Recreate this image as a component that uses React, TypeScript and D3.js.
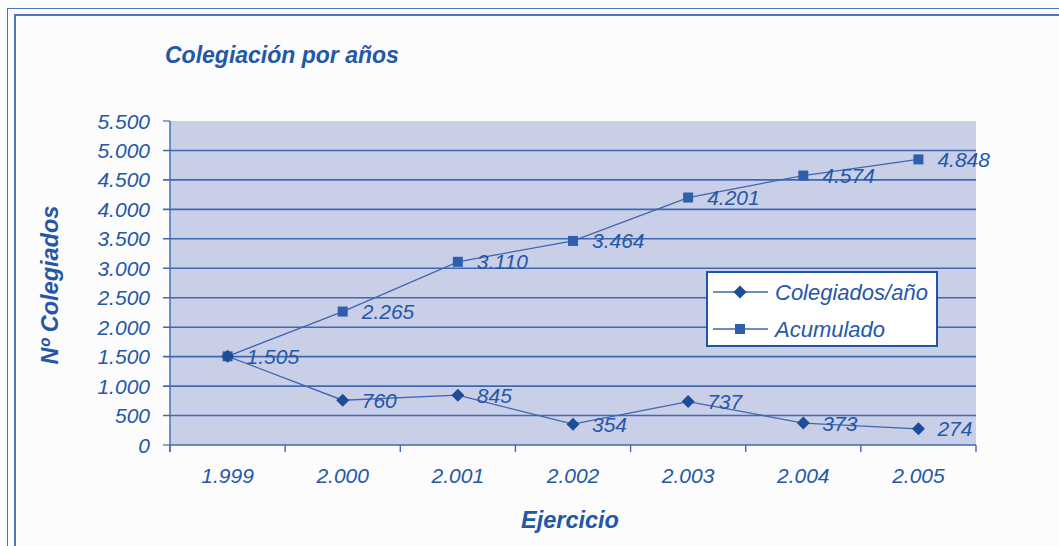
import React from "react";
import * as d3 from "d3";

const years = ["1.999", "2.000", "2.001", "2.002", "2.003", "2.004", "2.005"];
const colegiados = [1505, 760, 845, 354, 737, 373, 274];
const acumulado = [1505, 2265, 3110, 3464, 4201, 4574, 4848];
const yTicks = [0, 500, 1000, 1500, 2000, 2500, 3000, 3500, 4000, 4500, 5000, 5500];
const seriesNames = ["Colegiados/año", "Acumulado"];

const W = 1059;
const H = 546;
const FONT = "'Liberation Sans', Arial, Helvetica, sans-serif";
const TEXT = "#2457a8";
const GRID = "#3f69b4";
const LINE = "#3d67b2";
const DIAMOND = "#1d4c98";
const SQUARE = "#2f5fab";
const PLOT_BG = "#c9cfe7";

const fmt = (v: number) => {
  const s = String(Math.round(v));
  return s.replace(/\B(?=(\d{3})+(?!\d))/g, ".");
};

export default function App() {
  const left = 170, right = 976, top = 121, bottom = 445;
  const x = d3.scaleBand<string>().domain(years).range([left, right]);
  const y = d3.scaleLinear().domain([0, 5500]).range([bottom, top]);
  const cx = (i: number) => (x(years[i]) as number) + x.bandwidth() / 2;

  const line = d3
    .line<number>()
    .x((_, i) => cx(i))
    .y((d) => y(d));

  const diamond = (px: number, py: number, r: number) =>
    `M${px},${py - r}L${px + r},${py}L${px},${py + r}L${px - r},${py}Z`;

  const boundaries = years.map((yr) => x(yr) as number).concat([right]);

  return (
    <svg
      width={W}
      height={H}
      style={{ position: "absolute", left: 0, top: 0, display: "block" }}
      fontFamily={FONT}
    >
      <rect x={0} y={0} width={W} height={H} fill="#fcfcfd" />
      {/* frame */}
      <rect x={7.5} y={8.5} width={W + 20} height={H + 20} fill="none" stroke="#4d74c0" strokeWidth={1} />
      <rect x={15} y={15} width={W + 20} height={H + 20} fill="none" stroke="#4d74c0" strokeWidth={2} />

      {/* title */}
      <text x={165} y={63} fill={TEXT} fontSize={23} fontWeight="bold" fontStyle="italic">
        Colegiación por años
      </text>

      {/* plot background */}
      <rect x={left} y={top} width={right - left} height={bottom - top} fill={PLOT_BG} />

      {/* gridlines + y ticks */}
      {yTicks.map((t) => (
        <g key={t}>
          {t > 0 && t < 5500 && (
            <line x1={163} x2={right} y1={y(t)} y2={y(t)} stroke={GRID} strokeWidth={1.6} />
          )}
          {(t === 0 || t === 5500) && (
            <line x1={163} x2={left} y1={y(t)} y2={y(t)} stroke={GRID} strokeWidth={1.2} />
          )}
          <text
            x={150}
            y={y(t)}
            dy="0.36em"
            textAnchor="end"
            fill={TEXT}
            fontSize={21}
            fontStyle="italic"
          >
            {fmt(t)}
          </text>
        </g>
      ))}

      {/* axes */}
      <line x1={left} x2={left} y1={top} y2={bottom + 7} stroke={GRID} strokeWidth={1.4} />
      <line x1={left} x2={right} y1={bottom} y2={bottom} stroke={GRID} strokeWidth={1.4} />
      {boundaries.map((b, i) => (
        <line key={i} x1={b} x2={b} y1={bottom} y2={bottom + 7} stroke={GRID} strokeWidth={1.4} />
      ))}
      {years.map((yr, i) => (
        <text
          key={yr}
          x={cx(i)}
          y={475}
          dy="0.36em"
          textAnchor="middle"
          fill={TEXT}
          fontSize={21}
          fontStyle="italic"
        >
          {yr}
        </text>
      ))}

      {/* axis titles */}
      <text x={570} y={520} dy="0.36em" textAnchor="middle" fill={TEXT} fontSize={23.5} fontWeight="bold" fontStyle="italic">
        Ejercicio
      </text>
      <text
        transform={`translate(50,285) rotate(-90)`}
        dy="0.36em"
        textAnchor="middle"
        fill={TEXT}
        fontSize={23.5}
        fontWeight="bold"
        fontStyle="italic"
      >
        Nº Colegiados
      </text>

      {/* lines */}
      <path d={line(acumulado) || ""} fill="none" stroke={LINE} strokeWidth={1.3} />
      <path d={line(colegiados) || ""} fill="none" stroke={LINE} strokeWidth={1.3} />

      {/* markers */}
      {acumulado.map((v, i) => (
        <rect key={"s" + i} x={cx(i) - 5} y={y(v) - 5} width={10} height={10} fill={SQUARE} />
      ))}
      {colegiados.map((v, i) => (
        <path key={"d" + i} d={diamond(cx(i), y(v), 6.5)} fill={DIAMOND} />
      ))}

      {/* data labels */}
      {acumulado.map((v, i) => (
        <text key={"la" + i} x={cx(i) + 19} y={y(v)} dy="0.36em" fill={TEXT} fontSize={21} fontStyle="italic">
          {fmt(v)}
        </text>
      ))}
      {colegiados.map((v, i) =>
        i === 0 ? null : (
          <text key={"lc" + i} x={cx(i) + 19} y={y(v)} dy="0.36em" fill={TEXT} fontSize={21} fontStyle="italic">
            {fmt(v)}
          </text>
        )
      )}

      {/* legend */}
      <rect x={707} y={272} width={230} height={74} fill="#ffffff" stroke="#2054a4" strokeWidth={2} />
      {seriesNames.map((name, i) => {
        const ly = 292 + i * 37;
        return (
          <g key={name}>
            <line x1={713} x2={768} y1={ly} y2={ly} stroke={LINE} strokeWidth={1.3} />
            {i === 0 ? (
              <path d={diamond(740, ly, 6.5)} fill={DIAMOND} />
            ) : (
              <rect x={735} y={ly - 5} width={10} height={10} fill={SQUARE} />
            )}
            <text x={775} y={ly} dy="0.36em" fill={TEXT} fontSize={22} fontStyle="italic">
              {name}
            </text>
          </g>
        );
      })}
    </svg>
  );
}
